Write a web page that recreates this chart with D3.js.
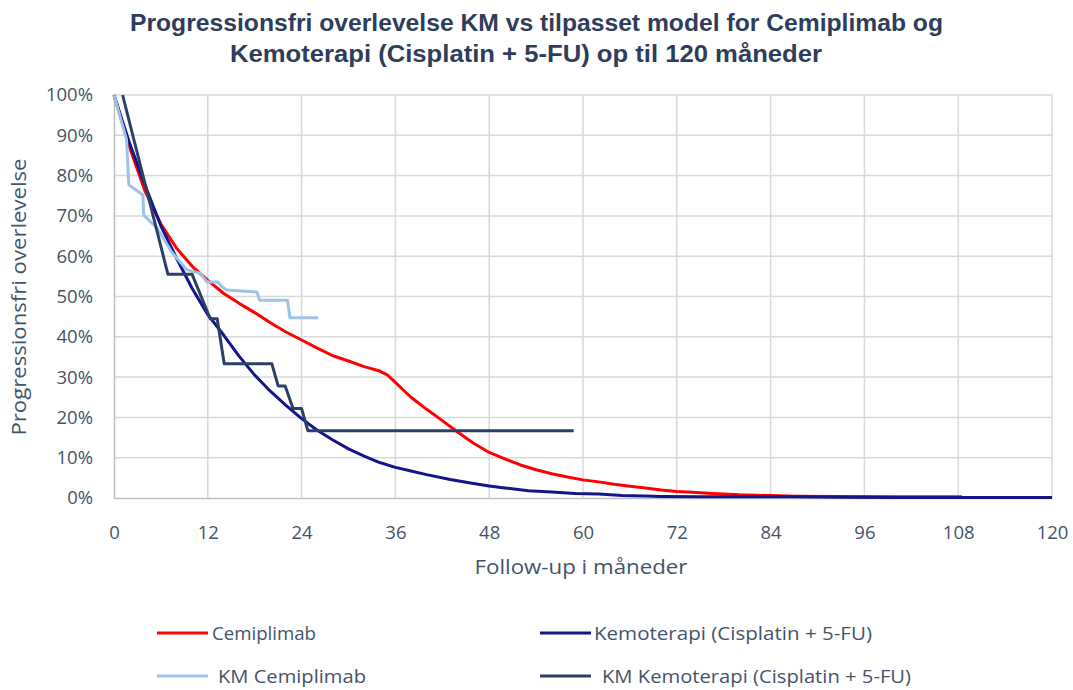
<!DOCTYPE html>
<html>
<head>
<meta charset="utf-8">
<script src="https://cdn.jsdelivr.net/npm/d3@7"></script>
<style>
  body { margin: 0; background: #fff; }
  text { fill: #44546A; }
</style>
</head>
<body>
<div id="chart"></div>
<script>
    // Chart data
    var titleLines = ["Progressionsfri overlevelse KM vs tilpasset model for Cemiplimab og",
                      "Kemoterapi (Cisplatin + 5-FU) op til 120 måneder"];

    var xTicks = [0, 12, 24, 36, 48, 60, 72, 84, 96, 108, 120];
    var yTicks = [0, 10, 20, 30, 40, 50, 60, 70, 80, 90, 100];

    // fitted model, Cemiplimab
    var cemiMonths = [0, 2, 4, 6, 8, 10, 12, 14, 16, 18, 20, 22, 24, 26, 28, 30, 32, 34, 35, 36, 37, 38,
                      40, 42, 44, 46, 48, 50, 52, 54, 56, 58, 60, 62, 64, 66, 68, 70, 72, 74, 76, 78,
                      80, 84, 87, 93, 100, 108.5];
    var cemiModel  = [100, 87, 76, 68, 62, 57.5, 54, 50.8, 48.3, 46, 43.5, 41.2, 39.2, 37.2, 35.3, 34, 32.6, 31.5, 30.5, 28.7, 26.8, 25,
                      22, 19.2, 16.3, 13.6, 11.3, 9.7, 8.2, 7.0, 6.0, 5.2, 4.5, 4.0, 3.4, 2.9, 2.5, 2.0, 1.6, 1.4, 1.2, 1.0,
                      0.8, 0.6, 0.45, 0.35, 0.3, 0.3];

    // fitted model, Kemoterapi
    var kemoMonths = [0, 2, 4, 6, 8, 10, 12, 14, 16, 18, 20, 22, 24, 26, 28, 30, 32, 34, 36, 38, 40, 43,
                      46, 48, 50, 53, 56, 59, 62, 65, 68, 70, 75, 87, 93, 100, 120];
    var kemoModel  = [100, 88, 77.5, 67.5, 59.5, 52, 45.5, 40.5, 35.2, 30.5, 26.5, 23, 19.7, 16.8, 14.4, 12.2, 10.4, 8.8, 7.6, 6.7, 5.8, 4.6,
                      3.6, 3.0, 2.5, 1.8, 1.5, 1.1, 1.0, 0.6, 0.5, 0.4, 0.3, 0.3, 0.2, 0.15, 0.1];

    // Kaplan-Meier, Cemiplimab
    var kmCemiMonths = [0, 1.6, 1.9, 3.7, 3.8, 5.5, 7.4, 9.3, 11.0, 11.9, 13.3, 13.8, 14.4, 18.3, 18.6, 22.2, 22.5, 26.1];
    var kmCemiValues = [100, 89, 77.7, 75.2, 70.2, 67, 61, 56.6, 55.8, 53.6, 53.6, 52.4, 51.6, 51.1, 49.1, 49.1, 44.7, 44.7];

    // Kaplan-Meier, Kemoterapi
    var kmKemoMonths = [1.1, 6.9, 10.0, 12.3, 13.2, 14.1, 20.2, 21.0, 21.9, 22.9, 24.0, 24.8, 58.8];
    var kmKemoValues = [100, 55.5, 55.5, 44.5, 44.5, 33.3, 33.3, 27.8, 27.8, 22.2, 22.2, 16.7, 16.7];

    var series = [
	{name: "Cemiplimab", color: "#FF0000", x: cemiMonths, y: cemiModel},
	{name: "Kemoterapi (Cisplatin + 5-FU)", color: "#14148C", x: kemoMonths, y: kemoModel},
	{name: "KM Cemiplimab", color: "#9DC3E6", x: kmCemiMonths, y: kmCemiValues},
	{name: "KM Kemoterapi (Cisplatin + 5-FU)", color: "#2B4066", x: kmKemoMonths, y: kmKemoValues}
    ];

    var width = 1073, height = 690;
    var plot = {left: 114, right: 1052, top: 95, bottom: 498};
    var font = "'Open Sans', sans-serif";

    var svg = d3.select("#chart").append("svg")
	.attr("width", width)
	.attr("height", height);

    var x = d3.scaleLinear().domain([0, 120]).range([plot.left, plot.right]);
    var y = d3.scaleLinear().domain([0, 100]).range([plot.bottom, plot.top]);

    // Title (stretched to the width it has in the original)
    var titleWidths = [813, 592];
    svg.append("g").selectAll("text")
	.data(titleLines)
	.enter().append("text")
	.attr("x", function(d, i) { return i === 0 ? 536.5 : 526; })
	.attr("y", function(d, i) { return 31 + i * 31; })
	.attr("text-anchor", "middle")
	.attr("textLength", function(d, i) { return titleWidths[i]; })
	.attr("lengthAdjust", "spacingAndGlyphs")
	.style("font-family", "'Liberation Sans', Arial, sans-serif")
	.style("font-weight", "bold")
	.style("font-size", "23px")
	.style("fill", "#2F3D5C")
	.text(function(d) { return d; });

    // Grid
    var grid = svg.append("g").attr("class", "grid");
    grid.selectAll("line.h")
	.data(yTicks.slice(1))
	.enter().append("line")
	.attr("x1", plot.left).attr("x2", plot.right)
	.attr("y1", function(d) { return y(d); })
	.attr("y2", function(d) { return y(d); })
	.style("stroke", "#D9D9D9")
	.style("stroke-width", 1.5);
    grid.selectAll("line.v")
	.data(xTicks.slice(1))
	.enter().append("line")
	.attr("y1", plot.top).attr("y2", plot.bottom)
	.attr("x1", function(d) { return x(d); })
	.attr("x2", function(d) { return x(d); })
	.style("stroke", "#D9D9D9")
	.style("stroke-width", 1.5);

    // Axes
    var xAxis = svg.append("g")
	.attr("transform", "translate(0," + plot.bottom + ")")
	.call(d3.axisBottom(x).tickValues(xTicks).tickSize(0).tickPadding(28));
    var yAxis = svg.append("g")
	.attr("transform", "translate(" + plot.left + ",0)")
	.call(d3.axisLeft(y).tickValues(yTicks).tickSize(0).tickPadding(21)
	      .tickFormat(function(d) { return d + "%"; }));

    [xAxis, yAxis].forEach(function(a) {
	a.select(".domain").style("stroke", "#BFBFBF").style("stroke-width", 1.5);
	a.selectAll("text")
	    .style("font-family", font)
	    .style("font-size", "18.5px")
	    .style("fill", "#44546A");
    });

    svg.append("text")
	.attr("x", 581)
	.attr("y", 574)
	.attr("text-anchor", "middle")
	.attr("textLength", 213)
	.attr("lengthAdjust", "spacingAndGlyphs")
	.style("font-family", font)
	.style("font-size", "19.5px")
	.text("Follow-up i måneder");

    svg.append("text")
	.attr("transform", "translate(26,297) rotate(-90)")
	.attr("text-anchor", "middle")
	.attr("textLength", 277)
	.attr("lengthAdjust", "spacingAndGlyphs")
	.style("font-family", font)
	.style("font-size", "19.5px")
	.text("Progressionsfri overlevelse");

    // Lines
    var line = d3.line()
	.x(function(d) { return x(d[0]); })
	.y(function(d) { return y(d[1]); });

    svg.append("g").selectAll("path")
	.data(series)
	.enter().append("path")
	.attr("d", function(s) { return line(d3.zip(s.x, s.y)); })
	.style("fill", "none")
	.style("stroke", function(s) { return s.color; })
	.style("stroke-width", 3)
	.style("stroke-linejoin", "round");

    // Legend
    var legendPos = [
	{lx: 157, ly: 633, tx: 212, w: 104},
	{lx: 540, ly: 633, tx: 594, w: 278},
	{lx: 157, ly: 676, tx: 218, w: 148},
	{lx: 540, ly: 676, tx: 602, w: 309}
    ];
    var legend = svg.append("g").selectAll("g")
	.data(series)
	.enter().append("g");
    legend.append("line")
	.attr("x1", function(d, i) { return legendPos[i].lx; })
	.attr("x2", function(d, i) { return legendPos[i].lx + 51; })
	.attr("y1", function(d, i) { return legendPos[i].ly; })
	.attr("y2", function(d, i) { return legendPos[i].ly; })
	.style("stroke", function(d) { return d.color; })
	.style("stroke-width", 3);
    legend.append("text")
	.attr("x", function(d, i) { return legendPos[i].tx; })
	.attr("y", function(d, i) { return legendPos[i].ly; })
	.attr("dy", "0.35em")
	.attr("textLength", function(d, i) { return legendPos[i].w; })
	.attr("lengthAdjust", "spacingAndGlyphs")
	.style("font-family", font)
	.style("font-size", "19px")
	.text(function(d) { return d.name; });
</script>
</body>
</html>
